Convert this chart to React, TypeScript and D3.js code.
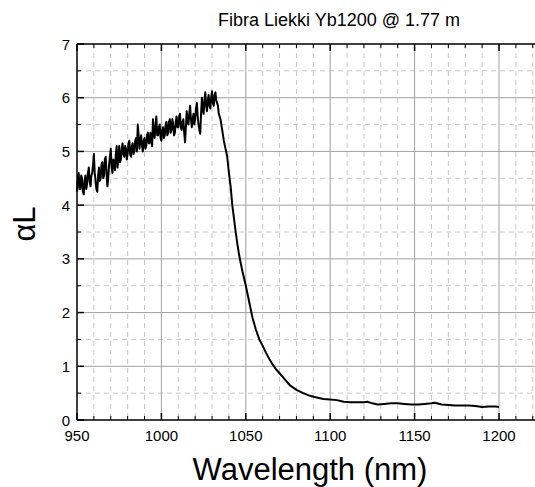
import React from "react";
import * as d3 from "d3";

const noisyStart = 950;
const noisyStep = 0.5;
const noisyValues = [
  4.25, 4.5, 4.6, 4.3, 4.3, 4.55, 4.5, 4.25, 4.2, 4.45,
  4.55, 4.3, 4.4, 4.6, 4.7, 4.45, 4.35, 4.55, 4.6, 4.75,
  4.95, 4.6, 4.45, 4.3, 4.25, 4.55, 4.7, 4.45, 4.5, 4.75,
  4.8, 4.5, 4.55, 4.85, 4.9, 4.6, 4.35, 4.5, 4.75, 4.9,
  5.05, 4.7, 4.6, 4.85, 4.8, 4.65, 4.95, 5.1, 4.7, 4.85,
  5.1, 4.8, 4.85, 5.05, 5.15, 4.95, 4.9, 5.1, 5.05, 4.85,
  4.95, 5.15, 5.2, 4.95, 4.9, 5.1, 5.15, 4.95, 5.0, 5.2,
  5.25, 5.0, 5.5, 5.3, 5.05, 5.2, 5.3, 5.1, 5.0, 5.2,
  5.25, 5.05, 5.1, 5.3, 5.35, 5.15, 5.15, 5.35, 5.3, 5.1,
  5.6, 5.35, 5.25, 5.5, 5.65, 5.3, 5.3, 5.45, 5.5, 5.25,
  5.2, 5.4, 5.45, 5.25, 5.3, 5.5, 5.55, 5.3, 5.35, 5.55,
  5.6, 5.35, 5.4, 5.6, 5.5, 5.3, 5.35, 5.55, 5.65, 5.45,
  5.45, 5.65, 5.7, 5.45, 5.4, 5.55, 5.6, 5.35, 5.17, 5.45,
  5.75, 5.55, 5.5, 5.7, 5.85, 5.6, 5.45, 5.6, 5.7, 5.5,
  5.6, 5.8, 5.9, 5.65, 5.5, 5.4, 5.33, 5.7, 6.0, 5.8,
  5.7, 5.95, 6.1, 5.85, 5.75, 5.95, 6.05, 5.85, 5.8, 6.0,
  6.12, 5.9, 5.85, 6.05, 6.1, 5.95, 5.9, 5.85, 5.7, 5.65,
];
const tailWavelengths = [
  1035, 1036, 1037, 1038, 1039, 1040, 1041, 1042, 1043, 1044, 1045, 1046, 1047, 1048, 1049,
  1050, 1052, 1054, 1056, 1058, 1060, 1062, 1064, 1066, 1068, 1070, 1073, 1076, 1080, 1084,
  1088, 1092, 1096, 1100, 1104, 1108, 1112, 1116, 1120, 1122, 1125, 1128, 1132, 1136, 1140,
  1144, 1148, 1152, 1156, 1160, 1162, 1166, 1170, 1174, 1178, 1182, 1186, 1190, 1194, 1198, 1200,
];
const tailValues = [
  5.6, 5.4, 5.2, 5.05, 4.9, 4.6, 4.35, 4.0, 3.75, 3.5, 3.28, 3.08, 2.92, 2.77, 2.64,
  2.5, 2.2, 1.9, 1.68, 1.5, 1.38, 1.25, 1.13, 1.03, 0.94, 0.87, 0.76, 0.65, 0.56, 0.5,
  0.45, 0.42, 0.39, 0.38, 0.37, 0.34, 0.33, 0.33, 0.33, 0.34, 0.31, 0.29, 0.3, 0.31, 0.31,
  0.3, 0.29, 0.29, 0.3, 0.31, 0.32, 0.29, 0.28, 0.27, 0.27, 0.27, 0.26, 0.24, 0.25, 0.25, 0.24,
];
const xTicks = [950, 1000, 1050, 1100, 1150, 1200];
const yTicks = [0, 1, 2, 3, 4, 5, 6, 7];
const title = "Fibra Liekki Yb1200 @ 1.77 m";
const xLabel = "Wavelength (nm)";
const yLabel = "αL";

const W = 535, H = 487;
const L = 77, T = 44, B = 420;

export default function App() {
  const x = d3.scaleLinear().domain([950, 1200]).range([L, 499]);
  const y = d3.scaleLinear().domain([0, 7]).range([B, T]);
  const R = x(1225);
  const data: [number, number][] = [
    ...noisyValues.map((v, i) => [noisyStart + i * noisyStep, v] as [number, number]),
    ...tailWavelengths.map((w, i) => [w, tailValues[i]] as [number, number]),
  ];
  const line = d3.line<[number, number]>().x(d => x(d[0])).y(d => y(d[1]));
  const xMinor = d3.range(950, 1226, 10).filter(v => v % 50 !== 0);
  const xMajor = d3.range(950, 1226, 50);
  const yMinor = d3.range(0.5, 7, 1);
  const font = "Arial, 'Liberation Sans', sans-serif";
  return (
    <svg width={W} height={H} style={{ position: "absolute", left: 0, top: 0, background: "#fff" }} fontFamily={font}>
      <rect x={0} y={0} width={W} height={H} fill="#fff" />
      {xMinor.map(v => (
        <line key={"xm" + v} x1={x(v)} x2={x(v)} y1={T} y2={B} stroke="#c8c8c8" strokeDasharray="5,4" strokeWidth={1} />
      ))}
      {yMinor.map(v => (
        <line key={"ym" + v} x1={L} x2={R} y1={y(v)} y2={y(v)} stroke="#c8c8c8" strokeDasharray="5,4" strokeWidth={1} />
      ))}
      {xMajor.slice(1).map(v => (
        <line key={"xM" + v} x1={x(v)} x2={x(v)} y1={T} y2={B} stroke="#a0a0a0" strokeWidth={1} />
      ))}
      {yTicks.slice(1, -1).map(v => (
        <line key={"yM" + v} x1={L} x2={R} y1={y(v)} y2={y(v)} stroke="#a0a0a0" strokeWidth={1} />
      ))}
      <path d={line(data) || ""} fill="none" stroke="#000" strokeWidth={2} strokeLinejoin="round" />
      <line x1={L} x2={R} y1={B} y2={B} stroke="#000" strokeWidth={1.5} />
      <line x1={L} x2={R} y1={T} y2={T} stroke="#000" strokeWidth={1.5} />
      <line x1={L} x2={L} y1={T} y2={B} stroke="#000" strokeWidth={1.5} />
      {xMajor.map(v => (
        <g key={"xt" + v}>
          <line x1={x(v)} x2={x(v)} y1={B} y2={B - 7} stroke="#000" strokeWidth={1.5} />
          <line x1={x(v)} x2={x(v)} y1={T} y2={T + 7} stroke="#000" strokeWidth={1.5} />
        </g>
      ))}
      {xMinor.map(v => (
        <g key={"xmt" + v}>
          <line x1={x(v)} x2={x(v)} y1={B} y2={B - 4} stroke="#000" strokeWidth={1} />
          <line x1={x(v)} x2={x(v)} y1={T} y2={T + 4} stroke="#000" strokeWidth={1} />
        </g>
      ))}
      {yTicks.map(v => (
        <line key={"yt" + v} x1={L} x2={L + 7} y1={y(v)} y2={y(v)} stroke="#000" strokeWidth={1.5} />
      ))}
      {yMinor.map(v => (
        <line key={"ymt" + v} x1={L} x2={L + 4} y1={y(v)} y2={y(v)} stroke="#000" strokeWidth={1} />
      ))}
      {xTicks.map(v => (
        <text key={"xl" + v} x={x(v)} y={B + 21} textAnchor="middle" fontSize={15} fill="#000">{v}</text>
      ))}
      {yTicks.map(v => (
        <text key={"yl" + v} x={L - 7} y={y(v) + 5.5} textAnchor="end" fontSize={15} fill="#000">{v}</text>
      ))}
      <text x={339} y={26} textAnchor="middle" fontSize={18} fill="#000">{title}</text>
      <text x={310} y={480} textAnchor="middle" fontSize={31} fill="#000">{xLabel}</text>
      <text transform={`translate(35, 224) rotate(-90)`} textAnchor="middle" fontSize={31} fill="#000">{yLabel}</text>
    </svg>
  );
}
